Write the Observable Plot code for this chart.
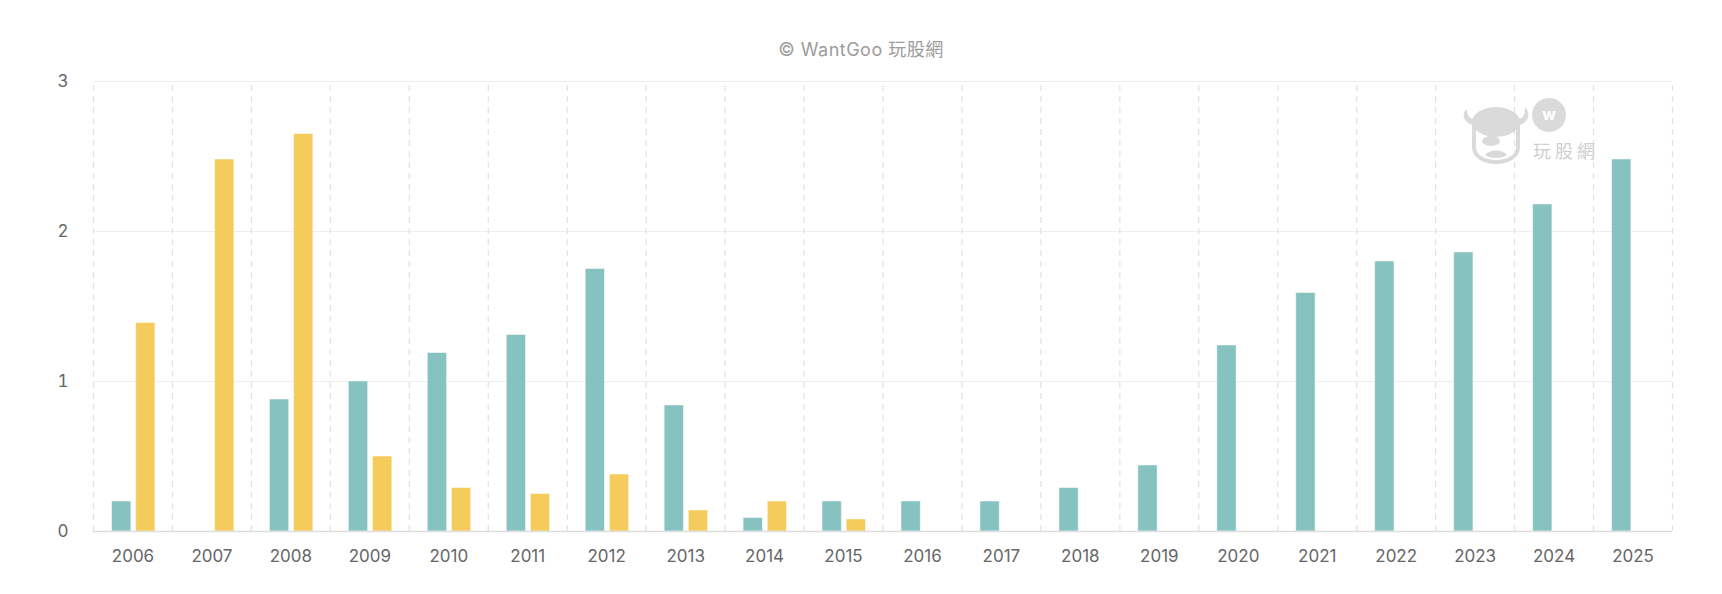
<!DOCTYPE html>
<html><head><meta charset="utf-8">
<script src="https://cdn.jsdelivr.net/npm/d3@7"></script>
<script src="https://cdn.jsdelivr.net/npm/@observablehq/plot@0.6"></script>
<style>
body{margin:0;background:#fff;font-family:Inter,"Noto Sans CJK TC",sans-serif;}
#wrap{position:relative;width:1722px;height:594px;overflow:hidden;}
#title{position:absolute;top:38px;left:0;width:1722px;text-align:center;font-size:18px;letter-spacing:0.5px;color:#9c9c9c;line-height:24px;font-family:Inter,"Noto Sans CJK TC",sans-serif;}
#chart{position:absolute;top:70px;left:0;}
#logo{position:absolute;left:1455px;top:95px;}
</style></head>
<body><div id="wrap"><div id="title">© WantGoo 玩股網</div><div id="chart"></div>
<svg id="logo" width="150" height="72" viewBox="0 0 150 72">
  <g fill="#dadada" stroke="none">
    <path d="M12 14 C6 18 8 28 18 30 L20 24 C14 24 12 20 12 14 Z"/>
    <path d="M70 12 C76 18 74 28 64 30 L62 24 C68 24 70 20 70 12 Z"/>
    <ellipse cx="41" cy="27" rx="24" ry="15"/>
    <path d="M19 30 L19 52 C19 62 30 67 41 67 C52 67 63 62 63 52 L63 30 Z" fill="none" stroke="#dadada" stroke-width="4"/>
    <ellipse cx="36" cy="46" rx="9" ry="5"/>
    <path d="M30 60 C34 54 48 54 52 60 C48 64 34 64 30 60 Z"/>
    <circle cx="94" cy="20" r="17"/>
  </g>
  <text x="94" y="25" text-anchor="middle" font-size="16" font-weight="bold" fill="#fff" font-family="Inter,sans-serif">w</text>
  <text x="78" y="63" font-size="18" fill="#cfcfcf" letter-spacing="4" font-family="'Noto Sans CJK TC',sans-serif">玩股網</text>
</svg>
</div>
<script>
const years = ["2006","2007","2008","2009","2010","2011","2012","2013","2014","2015","2016","2017","2018","2019","2020","2021","2022","2023","2024","2025"];
const tealValues = [0.2, null, 0.88, 1.0, 1.19, 1.31, 1.75, 0.84, 0.09, 0.2, 0.2, 0.2, 0.29, 0.44, 1.24, 1.59, 1.8, 1.86, 2.18, 2.48];
const yellowValues = [1.39, 2.48, 2.65, 0.5, 0.29, 0.25, 0.38, 0.14, 0.2, 0.08, null, null, null, null, null, null, null, null, null, null];
const yTicks = [0, 1, 2, 3];

const rows = years.map((year, i) => ({year, teal: tealValues[i], yellow: yellowValues[i]}));

const W = 1722, H = 524, ML = 93, MR = 50;
const band = (W - ML - MR) / years.length;
const barW = 19.3, outerL = 18.5, outerR = 17;

const chart = Plot.plot({
  width: W, height: H,
  marginLeft: ML, marginRight: MR, marginTop: 11, marginBottom: 63,
  style: {fontFamily: "Inter, sans-serif", fontSize: "17px", color: "#666", background: "#fff", overflow: "visible"},
  x: {domain: years, padding: 0, round: false, label: null, tickSize: 0, tickPadding: 18},
  y: {domain: [0, 3], ticks: yTicks, label: null, tickSize: 0, tickPadding: 25, tickFormat: d => String(d)},
  marks: [
    Plot.ruleY(yTicks.slice(1), {stroke: "#eeeeee", strokeWidth: 1}),
    Plot.ruleX(years, {x: d => d, dx: -band / 2, y1: 0, y2: 3, stroke: "#e2e2e2", strokeWidth: 1.2, strokeDasharray: "6,5"}),
    Plot.ruleX(years.slice(-1), {x: d => d, dx: band / 2, y1: 0, y2: 3, stroke: "#e2e2e2", strokeWidth: 1.2, strokeDasharray: "6,5"}),
    Plot.barY(rows.filter(d => d.teal != null), {x: "year", y: "teal", fill: "#85C2C0", stroke: "#ffffff", strokeOpacity: 0.5, strokeWidth: 1, insetLeft: outerL, insetRight: band - outerL - barW}),
    Plot.barY(rows.filter(d => d.yellow != null), {x: "year", y: "yellow", fill: "#F5CB5C", stroke: "#ffffff", strokeOpacity: 0.5, strokeWidth: 1, insetLeft: band - outerR - barW, insetRight: outerR}),
    Plot.ruleY([0], {stroke: "#dddddd", strokeWidth: 1.6})
  ]
});
document.getElementById("chart").appendChild(chart);
</script>
</body></html>
